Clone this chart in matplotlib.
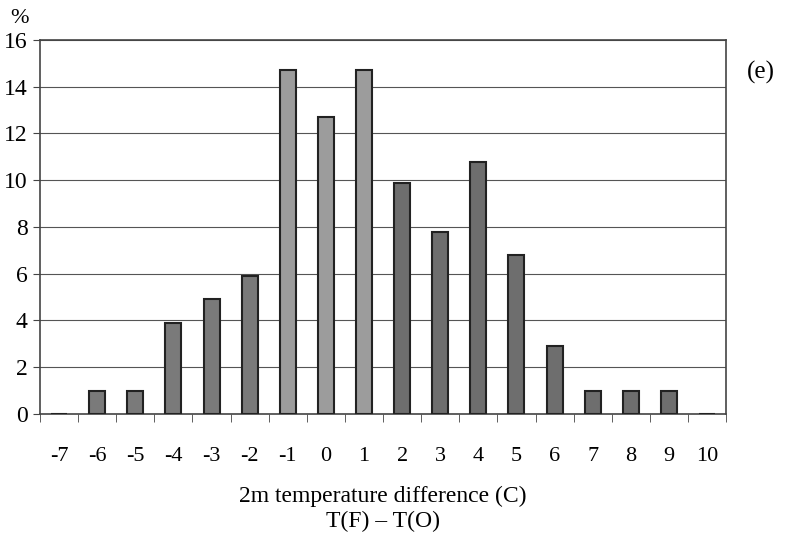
import numpy as np
import matplotlib.pyplot as plt

diffs = [-7, -6, -5, -4, -3, -2, -1, 0, 1, 2, 3, 4, 5, 6, 7, 8, 9, 10]
percent = [0, 1.0, 1.0, 3.9, 4.9, 5.9, 14.7, 12.7, 14.7, 9.9, 7.8, 10.8, 6.8, 2.9, 1.0, 1.0, 1.0, 0]
shades = ['#7a7a7a'] * 6 + ['#9c9c9c'] * 3 + ['#6e6e6e'] * 9

plt.rcParams['font.family'] = 'Liberation Serif'

fig = plt.figure(figsize=(7.85, 5.41), dpi=100)
ax = fig.add_axes([0.051, 0.235, 0.874, 0.691])

x = np.arange(len(diffs))
ax.bar(x, percent, width=0.42, color=shades, edgecolor='#222222', linewidth=1.5, zorder=3)

ax.set_xlim(-0.5, len(diffs) - 0.5)
ax.set_ylim(0, 16)
ax.set_yticks(range(0, 17, 2))
ax.yaxis.grid(True, color='#555555', linewidth=0.8)
ax.set_axisbelow(True)

ax.set_xticks(x)
ax.set_xticklabels([str(d) for d in diffs], fontsize=16)
ax.tick_params(axis='x', which='major', length=0, pad=24)
ax.set_xticks(np.arange(-0.5, len(diffs), 1), minor=True)
ax.tick_params(axis='x', which='minor', length=6, color='#444444')
ax.tick_params(axis='y', labelsize=17, length=5, color='#444444', pad=4)

for s in ax.spines.values():
    s.set_color('#444444')
    s.set_linewidth(1.2)

ax.set_xlabel('2m temperature difference (C)\nT(F) \u2013 T(O)', fontsize=17, labelpad=14, linespacing=1.25)
fig.text(0.013, 0.958, '%', fontsize=16)
fig.text(0.952, 0.855, '(e)', fontsize=18)

fig.savefig('out.png')
